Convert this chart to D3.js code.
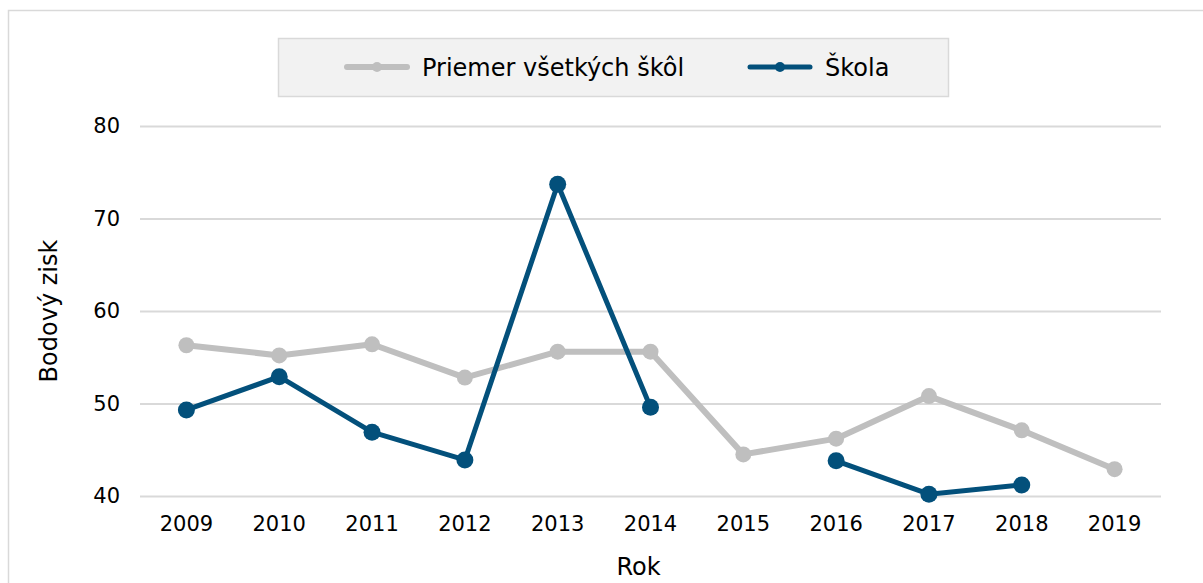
<!DOCTYPE html>
<html>
<head>
<meta charset="utf-8">
<script src="https://cdn.jsdelivr.net/npm/d3@7"></script>
<style>
  body { margin: 0; background: #fff; }
  svg { font-family: "DejaVu Sans", Verdana, sans-serif; }
</style>
</head>
<body>
<svg id="chart"></svg>
<script>
const width = 1203;
const height = 583;

const years = ['2009','2010','2011','2012','2013','2014','2015','2016','2017','2018','2019'];
const priemer = [56.3, 55.2, 56.4, 52.8, 55.6, 55.6, 44.5, 46.2, 50.8, 47.1, 42.9];
const skola = [49.3, 52.9, 46.9, 43.9, 73.7, 49.6, null, 43.8, 40.2, 41.2, null];
const yTicks = [40, 50, 60, 70, 80];
const seriesNames = ['Priemer všetkých škôl', 'Škola'];
const colours = ['#bfbfbf', '#03507b'];

const plot = {left: 140, right: 1161, top: 126, bottom: 496};

const svg = d3.select('#chart')
    .attr('width', width)
    .attr('height', height);

// outer frame
svg.append('rect')
    .attr('x', 8.5).attr('y', 10.5)
    .attr('width', width).attr('height', height)
    .attr('fill', 'none')
    .attr('stroke', '#d9d9d9')
    .attr('stroke-width', 1.5);

const x = d3.scaleBand()
    .domain(years)
    .range([plot.left, plot.right]);

const y = d3.scaleLinear()
    .domain([40, 80])
    .range([plot.bottom, plot.top]);

// gridlines + y labels
const yAxis = svg.append('g')
    .attr('transform', `translate(${plot.left},0)`)
    .call(d3.axisLeft(y).tickValues(yTicks).tickSize(-(plot.right - plot.left)).tickPadding(20));
yAxis.select('.domain').remove();
yAxis.selectAll('.tick line').attr('stroke', '#d9d9d9').attr('stroke-width', 2);
yAxis.selectAll('.tick text')
    .attr('fill', '#000')
    .style('font-size', '21px')
    .style('font-family', '"DejaVu Sans", Verdana, sans-serif');

// x labels
const xAxis = svg.append('g')
    .attr('transform', `translate(0,${plot.bottom})`)
    .call(d3.axisBottom(x).tickSize(0).tickPadding(20));
xAxis.select('.domain').remove();
xAxis.selectAll('.tick text')
    .attr('fill', '#000')
    .style('font-size', '21px')
    .style('font-family', '"DejaVu Sans", Verdana, sans-serif');

// axis titles
svg.append('text')
    .attr('transform', `translate(57,${(plot.top + plot.bottom) / 2}) rotate(-90)`)
    .attr('text-anchor', 'middle')
    .style('font-size', '24px')
    .text('Bodový zisk');

svg.append('text')
    .attr('x', (plot.left + plot.right) / 2 - 12)
    .attr('y', 575)
    .attr('text-anchor', 'middle')
    .style('font-size', '24px')
    .text('Rok');

const xPos = (d, i) => x(years[i]) + x.bandwidth() / 2;

const line = d3.line()
    .defined(d => d !== null)
    .x(xPos)
    .y(d => y(d));

const drawSeries = (values, colour, lw, r) => {
  svg.append('path')
      .datum(values)
      .attr('fill', 'none')
      .attr('stroke', colour)
      .attr('stroke-width', lw)
      .attr('stroke-linejoin', 'round')
      .attr('d', line);
  svg.append('g')
      .selectAll('circle')
      .data(values.map((v, i) => ({v, i})).filter(d => d.v !== null))
      .enter()
      .append('circle')
      .attr('cx', d => xPos(d.v, d.i))
      .attr('cy', d => y(d.v))
      .attr('r', r)
      .attr('fill', colour);
};

drawSeries(priemer, colours[0], 6, 8);
drawSeries(skola, colours[1], 5, 8.5);

// legend
const legend = svg.append('g');
legend.append('rect')
    .attr('x', 278.5).attr('y', 38.5)
    .attr('width', 670).attr('height', 58)
    .attr('fill', '#f2f2f2')
    .attr('stroke', '#d9d9d9')
    .attr('stroke-width', 1.5);

const legendItems = [
  {name: seriesNames[0], colour: colours[0], x0: 347, lw: 6},
  {name: seriesNames[1], colour: colours[1], x0: 750, lw: 5}
];
legendItems.forEach(it => {
  legend.append('line')
      .attr('x1', it.x0).attr('x2', it.x0 + 60)
      .attr('y1', 67).attr('y2', 67)
      .attr('stroke', it.colour)
      .attr('stroke-width', it.lw)
      .attr('stroke-linecap', 'round');
  legend.append('circle')
      .attr('cx', it.x0 + 30).attr('cy', 67)
      .attr('r', 5)
      .attr('fill', it.colour);
  legend.append('text')
      .attr('x', it.x0 + 75).attr('y', 76)
      .style('font-size', '24px')
      .text(it.name);
});
</script>
</body>
</html>
